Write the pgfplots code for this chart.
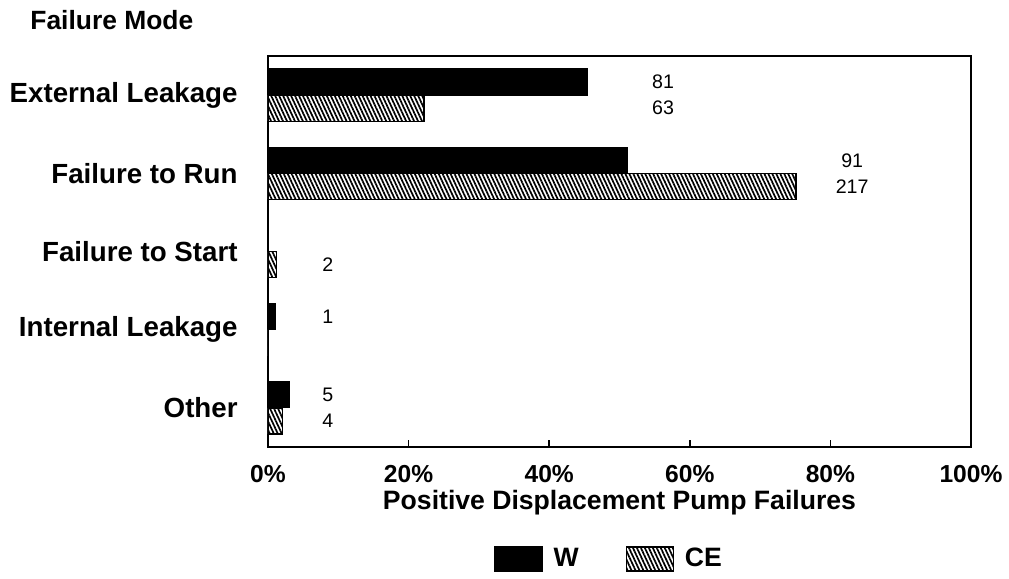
\documentclass[border=0pt]{standalone}
\usepackage{pgfplots}
\pgfplotsset{compat=1.18}
\usepackage{pgfplotstable}
\usetikzlibrary{patterns.meta}
\usepackage{fontspec}
\setmainfont{Liberation Sans}

\pgfplotstableread{
y w ce
4 45.4 22.2
3 51.1 75.1
2 0 1.2
1 1.0 0
0 3.0 2.1
}\pumpdata

\begin{document}
\begin{tikzpicture}
\path[use as bounding box] (-134bp,-66bp) rectangle (370.5bp,223.5bp);
\begin{axis}[
  scale only axis,
  width=351.5bp, height=195.5bp,
  xbar,
  bar width=0.333,
  xmin=0, xmax=100,
  ymin=-0.5, ymax=4.5,
  axis line style={line width=1bp},
  xtick={0,20,40,60,80,100},
  xticklabels={0\%,20\%,40\%,60\%,80\%,100\%},
  xtick pos=left,
  tick align=inside,
  major tick length=3.5bp,
  xtick style={line width=0.8bp, black},
  xticklabel style={font=\fontsize{12.3bp}{14bp}\selectfont\bfseries, anchor=base, yshift=-17.5bp},
  ytick={0,1,2,3,4},
  yticklabels={Other,Internal Leakage,Failure to Start,Failure to Run,External Leakage},
  ytick style={draw=none},
  yticklabel style={font=\fontsize{13.85bp}{16bp}\selectfont\bfseries, anchor=east, inner sep=0pt, xshift=-15bp},
  xlabel={Positive Displacement Pump Failures},
  every axis x label/.style={at={(axis description cs:0.5,0)}, anchor=base, yshift=-31bp, font=\fontsize{13.3bp}{16bp}\selectfont\bfseries},
  legend columns=2,
  legend style={at={(axis description cs:0.3215,-0.2864)}, anchor=west, draw=none, fill=none, inner sep=0pt,
    nodes={inner sep=0pt, font=\fontsize{13.3bp}{16bp}\selectfont\bfseries},
    /tikz/every even column/.append style={column sep=23.5bp}},
  legend image code/.code={\draw[#1, line width=0.6bp] (0bp,-6bp) rectangle (23.5bp,6bp); \path (29bp,0bp);},
]
\addplot[xbar, bar shift=0.1667, fill=black, draw=black, line width=0.6bp] table[x=w, y=y] {\pumpdata};
\addlegendentry{W}
\addplot[xbar, bar shift=-0.1667, fill=white, draw=black, line width=0.6bp,
  postaction={pattern={Lines[angle=-65,distance=1.8bp,line width=0.85bp]}, pattern color=black}] table[x=ce, y=y] {\pumpdata};
\addlegendentry{CE}

\begin{scope}[every node/.style={font=\fontsize{9.8bp}{11bp}\selectfont, anchor=center}]
\node at (axis cs:56.2,4.1667) {81};
\node at (axis cs:56.2,3.8333) {63};
\node at (axis cs:83.1,3.1667) {91};
\node at (axis cs:83.1,2.8333) {217};
\node at (axis cs:8.5,1.8333) {2};
\node at (axis cs:8.5,1.1667) {1};
\node at (axis cs:8.5,0.1667) {5};
\node at (axis cs:8.5,-0.1667) {4};
\end{scope}
\end{axis}
\node[anchor=base west, inner sep=0pt, font=\fontsize{13.2bp}{16bp}\selectfont\bfseries] at (-119bp,208.5bp) {Failure Mode};
\end{tikzpicture}
\end{document}
